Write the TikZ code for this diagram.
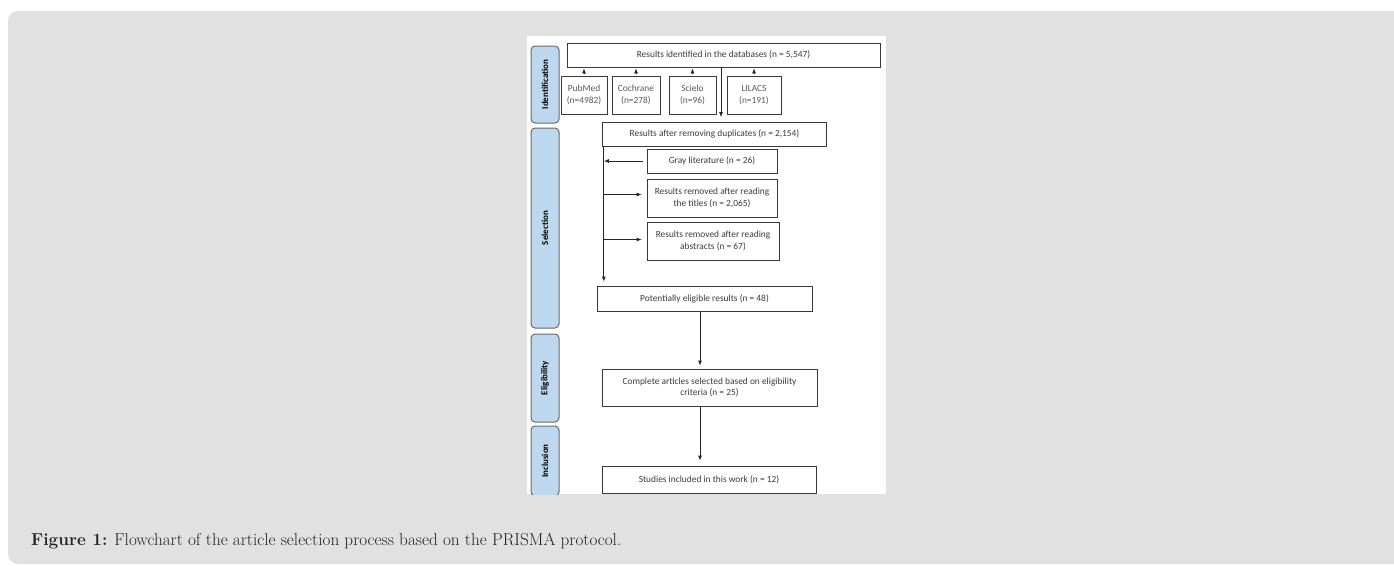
\documentclass[tikz,border=0pt]{standalone}
\usepackage{fontspec}
\newfontfamily\chartfont{Carlito}
\usetikzlibrary{arrows.meta}

\definecolor{pagegray}{HTML}{E1E1E1}
\definecolor{phaseblue}{HTML}{BDD7EE}
\definecolor{phaseline}{HTML}{6A6A6A}
\definecolor{boxline}{HTML}{3A3A3A}
\definecolor{boxtext}{HTML}{3C3C3C}
\definecolor{dbtext}{HTML}{5A5A5A}
\definecolor{captext}{HTML}{222222}

\tikzset{
  box/.style={draw=boxline, line width=0.8pt, fill=white, text=boxtext,
    align=center, inner sep=1pt, font=\chartfont\fontsize{9.4}{11.5}\selectfont},
  dbbox/.style={box, text=dbtext, minimum height=38pt},
  phase/.style={draw=phaseline, line width=1pt, fill=phaseblue, rounded corners=4pt,
    rotate=90, minimum height=28pt, inner sep=0pt,
    font=\chartfont\bfseries\fontsize{9}{10}\selectfont},
  arr/.style={-{Latex[length=5pt,width=4pt]}, line width=0.8pt, black!85}
}

\begin{document}
\begin{tikzpicture}[x=1pt, y=-1pt]

  % Page and grey caption panel
  \useasboundingbox (0,0) rectangle (1394,565);
  \fill[white] (0,0) rectangle (1394,565);
  \fill[pagegray, rounded corners=10pt] (8,11) rectangle (1420,564);

  % White area of the figure
  \fill[white] (527,36) rectangle (886,494);

  \begin{scope}
  \clip (527,36) rectangle (886,494);

  % Phase labels on the left
  \node[phase, minimum width=77pt] (phId) at (545,84.5) {Identification};
  \node[phase, minimum width=200pt] (phSel) at (545,228) {Selection};
  \node[phase, minimum width=88pt] (phElig) at (545,378) {Eligibility};
  \node[phase, minimum width=70pt] (phIncl) at (545,461) {Inclusion};

  % Identification
  \node[box, minimum width=313pt, minimum height=24pt] (ident) at (723.5,55)
    {Results identified in the databases (n = 5,547)};
  \node[dbbox, minimum width=46pt] (pubmed) at (584,95) {PubMed\\(n=4982)};
  \node[dbbox, minimum width=48pt] (cochrane) at (636,95) {Cochrane\\(n=278)};
  \node[dbbox, minimum width=47pt] (scielo) at (692.5,95) {Scielo\\(n=96)};
  \node[dbbox, minimum width=54pt] (lilacs) at (754,95) {LILACS\\(n=191)};

  % Selection
  \node[box, minimum width=224pt, minimum height=24pt] (dup) at (714.5,134)
    {Results after removing duplicates (n = 2,154)};
  \node[box, minimum width=130pt, minimum height=24pt] (gray) at (712,161)
    {Gray literature (n = 26)};
  \node[box, minimum width=130pt, minimum height=38pt] (titles) at (712,198)
    {Results removed after reading\\the titles (n = 2,065)};
  \node[box, minimum width=132pt, minimum height=38pt] (abstr) at (713,241)
    {Results removed after reading\\abstracts (n = 67)};
  \node[box, minimum width=215pt, minimum height=25pt] (elig) at (704.5,298.5)
    {Potentially eligible results (n = 48)};

  % Eligibility
  \node[box, minimum width=215pt, minimum height=37pt] (comp) at (709.5,387.5)
    {Complete articles selected based on eligibility\\criteria (n = 25)};

  % Inclusion
  \node[box, minimum width=214pt, minimum height=27pt] (studies) at (709,479.5)
    {Studies included in this work (n = 12)};
  \end{scope}

  % Columns used by the connectors
  \coordinate (down) at (721,0);
  \coordinate (trunk) at (603.8,0);
  \coordinate (mid) at (700,0);

  % Databases up to the total
  \draw[arr, shorten <=1.5pt, shorten >=1pt] (pubmed.north) -- (pubmed.north |- ident.south);
  \draw[arr, shorten <=1.5pt, shorten >=1pt] (cochrane.north) -- (cochrane.north |- ident.south);
  \draw[arr, shorten <=1.5pt, shorten >=1pt] (scielo.north) -- (scielo.north |- ident.south);
  \draw[arr, shorten <=1.5pt, shorten >=1pt] (lilacs.north) -- (lilacs.north |- ident.south);

  % Total down to duplicates removed
  \draw[arr, shorten >=4.5pt] (ident.south -| down) -- (dup.north -| down);

  % Trunk from duplicates down to eligible results
  \draw[arr, shorten >=4pt] (dup.south -| trunk) -- (elig.north -| trunk);

  % Side branches
  \draw[arr, shorten <=3.5pt] (gray.west) -- (gray.west -| trunk);
  \draw[arr, shorten >=5pt] ([yshift=3.5pt]titles.west -| trunk) -- ([yshift=3.5pt]titles.west);
  \draw[arr, shorten >=5pt] ([yshift=1.5pt]abstr.west -| trunk) -- ([yshift=1.5pt]abstr.west);

  % Down the last steps
  \draw[arr, shorten >=3pt] (elig.south -| mid) -- (comp.north -| mid);
  \draw[arr, shorten >=5pt] (comp.south -| mid) -- (studies.north -| mid);

  % Caption
  \node[anchor=base west, inner sep=0pt, text=captext, font=\fontsize{17.2}{20}\selectfont]
    (cap) at (31,545) {\textbf{Figure 1:} Flowchart of the article selection process based on the PRISMA protocol.};

\end{tikzpicture}
\end{document}
